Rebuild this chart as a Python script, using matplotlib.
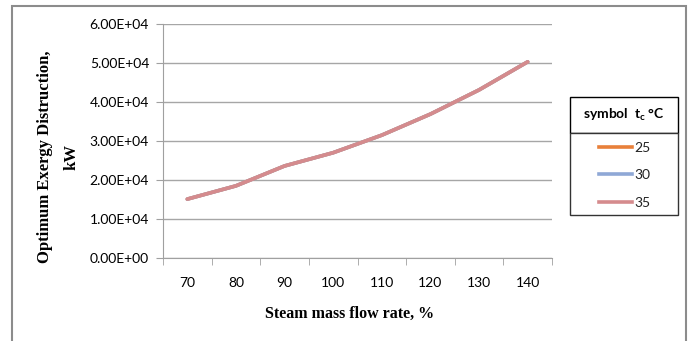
import matplotlib
matplotlib.use('Agg')
import matplotlib.pyplot as plt
from matplotlib.patches import Rectangle
from matplotlib.lines import Line2D

# steam mass flow rate, %
flow = [70, 80, 90, 100, 110, 120, 130, 140]
# optimum exergy destruction, kW, for each condenser temperature
ex_25 = [15100, 18500, 23600, 27000, 31500, 36900, 43100, 50300]
ex_30 = [15100, 18500, 23600, 27000, 31500, 36900, 43100, 50300]
ex_35 = [15100, 18500, 23600, 27000, 31500, 36900, 43100, 50300]
labels = ['25', '30', '35']
colors = ['#E8803A', '#8FA8D6', '#D58B8D']

fig = plt.figure(figsize=(6.91, 3.41), dpi=100)
fig.patch.set_facecolor('white')

# outer frame
fig.patches.append(Rectangle((12 / 691, -0.1), 674 / 691, 1.1 - 6 / 341,
                             transform=fig.transFigure, fill=False,
                             edgecolor='#8C8C8C', linewidth=1.5))

ax = fig.add_axes([163 / 691, 1 - 258 / 341, 389 / 691, 234 / 341])
xs = list(range(len(flow)))
for y, lab, c in zip([ex_25, ex_30, ex_35], labels, colors):
    ax.plot(xs, y, color=c, linewidth=2.6, label=lab, solid_capstyle='round')

ax.set_xlim(-0.5, len(flow) - 0.5)
ax.set_ylim(0, 60000)
ax.set_yticks(range(0, 60001, 10000))
ax.set_yticklabels(['%.2E' % v for v in range(0, 60001, 10000)],
                   fontfamily='Lato', fontsize=10)
ax.set_xticks(xs)
ax.set_xticklabels([str(f) for f in flow], fontfamily='Lato', fontsize=10)
ax.set_xticks([x - 0.5 for x in range(len(flow) + 1)], minor=True)
ax.tick_params(axis='x', which='major', length=0, pad=14)
ax.tick_params(axis='x', which='minor', length=5, color='#A0A0A0', direction='out')
ax.tick_params(axis='y', length=5, color='#A0A0A0', direction='out', pad=5)
ax.grid(axis='y', color='#A6A6A6', linewidth=1)
ax.set_axisbelow(True)
for s in ['top', 'right']:
    ax.spines[s].set_visible(False)
for s in ['left', 'bottom']:
    ax.spines[s].set_color('#A0A0A0')

fig.text(350 / 691, 1 - 314 / 341, 'Steam mass flow rate, %',
         fontfamily='Liberation Serif', fontweight='bold', fontsize=11.5,
         ha='center', va='center')
fig.text(58 / 691, 1 - 157 / 341, 'Optimum Exergy Distruction,\nkW',
         fontfamily='Liberation Serif', fontweight='bold', fontsize=12,
         ha='center', va='center', rotation=90, linespacing=1.9,
         multialignment='center')

# legend title box
fig.patches.append(Rectangle((570 / 691, 1 - 133 / 341), 108 / 691, 36 / 341,
                             transform=fig.transFigure, fill=True,
                             facecolor='white', edgecolor='black', linewidth=1))
fig.text(624 / 691, 1 - 115 / 341, 'symbol  t$_\\mathregular{c}$ °C',
         fontfamily='Lato', fontweight='bold', fontsize=10,
         ha='center', va='center')

# legend entries box
fig.patches.append(Rectangle((570 / 691, 1 - 215 / 341), 108 / 691, 82 / 341,
                             transform=fig.transFigure, fill=True,
                             facecolor='white', edgecolor='#333333', linewidth=1))
handles = [Line2D([], [], color=c, linewidth=2.6) for c in colors]
leg = fig.legend(handles, labels, loc='upper left',
                 bbox_to_anchor=(599 / 691, 1 - 142 / 341),
                 prop={'family': 'Lato', 'size': 10},
                 frameon=False, handlelength=2.4, handletextpad=0.15,
                 labelspacing=1.1, borderpad=0, borderaxespad=0)
for t in leg.get_texts():
    t.set_color('#222222')

fig.savefig('out.png', dpi=100)
